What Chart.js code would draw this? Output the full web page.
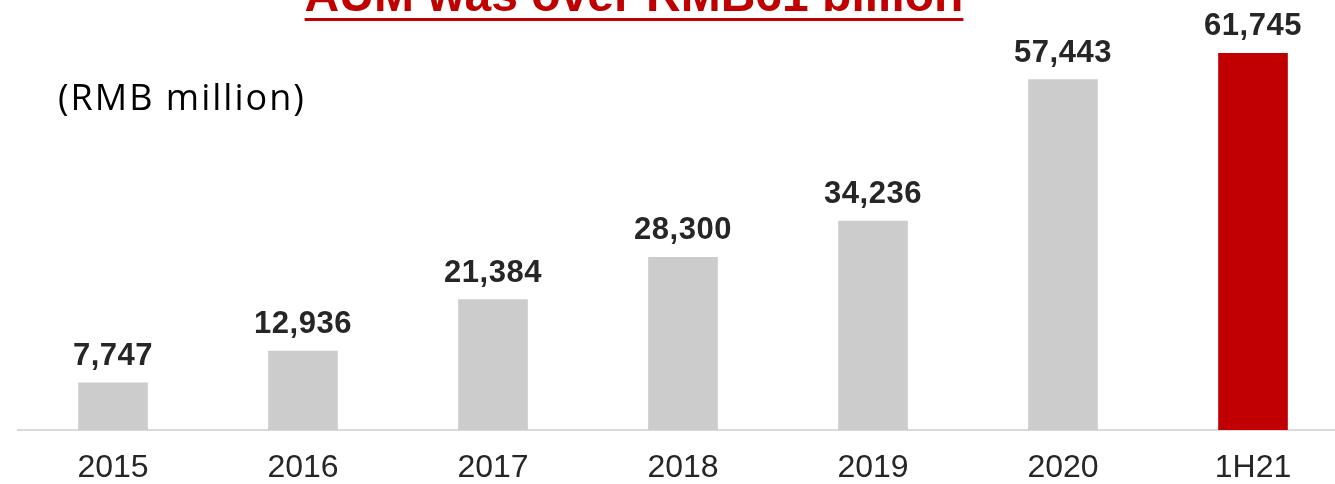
<!DOCTYPE html>
<html>
<head>
<meta charset="utf-8">
<script src="https://cdn.jsdelivr.net/npm/chart.js@4/dist/chart.umd.min.js"></script>
<style>
html,body{margin:0;padding:0;overflow:hidden;background:#fff;}
#wrap{position:relative;width:1348px;height:484px;}
</style>
</head>
<body>
<div id="wrap"><canvas id="c" width="1348" height="484"></canvas></div>
<script>
const categories = ["2015","2016","2017","2018","2019","2020","1H21"];
const aumValues = [7747, 12936, 21384, 28300, 34236, 57443, 61745];
const barColors = ["#CCCCCC","#CCCCCC","#CCCCCC","#CCCCCC","#CCCCCC","#CCCCCC","#C00000"];
const titleText = "AUM was over RMB61 billion";
const unitText = "(RMB million)";

const decorPlugin = {
  id: 'decor',
  afterDatasetsDraw(chart) {
    const ctx = chart.ctx;
    const meta = chart.getDatasetMeta(0);
    ctx.save();
    ctx.font = 'bold 31px "Liberation Sans", Arial, sans-serif';
    ctx.fillStyle = '#262626';
    ctx.textAlign = 'center';
    ctx.textBaseline = 'alphabetic';
    if ('letterSpacing' in ctx) ctx.letterSpacing = '0.5px';
    meta.data.forEach((bar, i) => {
      const v = chart.data.datasets[0].data[i];
      ctx.fillText(v.toLocaleString('en-US'), bar.x, bar.y - 18);
    });
    if ('letterSpacing' in ctx) ctx.letterSpacing = '0px';
    // title
    ctx.font = 'bold 48px "Liberation Sans", Arial, sans-serif';
    ctx.fillStyle = '#C00000';
    ctx.textAlign = 'center';
    ctx.fillText(titleText, 634, 11);
    const w = ctx.measureText(titleText).width;
    ctx.fillRect(634 - w / 2, 18, w, 3);
    // unit
    ctx.font = '36px "Open Sans", "Noto Sans", sans-serif';
    ctx.fillStyle = '#000000';
    ctx.textAlign = 'left';
    if ('letterSpacing' in ctx) ctx.letterSpacing = '2px';
    ctx.fillText(unitText, 58, 110);
    ctx.restore();
  }
};

new Chart(document.getElementById('c'), {
  type: 'bar',
  data: {
    labels: categories,
    datasets: [{
      data: aumValues,
      backgroundColor: barColors,
      borderWidth: 0,
      barThickness: 69
    }]
  },
  options: {
    responsive: false,
    animation: false,
    layout: { padding: { left: 18, right: 0, top: 3, bottom: 0 } },
    plugins: { legend: { display: false }, tooltip: { enabled: false }, title: { display: false } },
    scales: {
      x: {
        grid: { display: false, drawTicks: false },
        border: { display: true, color: '#D9D9D9', width: 2 },
        ticks: {
          color: '#262626',
          font: { family: '"Liberation Sans", Arial, sans-serif', size: 32 },
          padding: 19
        },
        afterFit(scale) { scale.height = 54; }
      },
      y: {
        display: false,
        min: 0,
        max: 70000
      }
    }
  },
  plugins: [decorPlugin]
});
</script>
</body>
</html>
